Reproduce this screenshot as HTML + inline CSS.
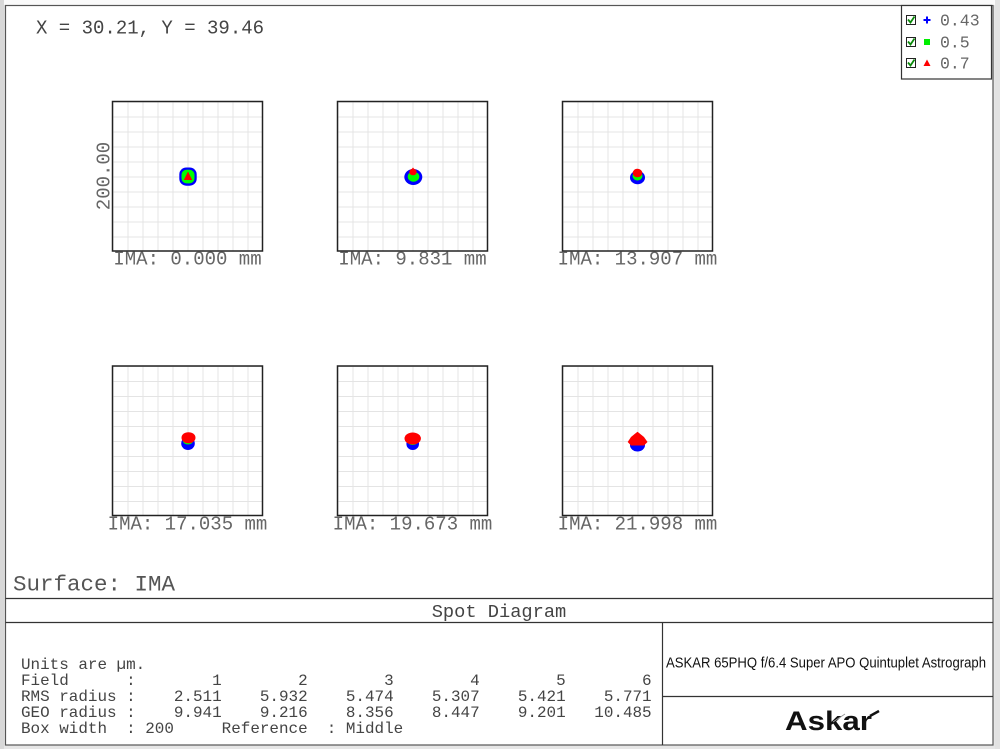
<!DOCTYPE html>
<html>
<head>
<meta charset="utf-8">
<style>
  html,body{margin:0;padding:0;background:#f0f0f0;}
  svg{display:block;}
  text{white-space:pre;}
  .mono{font-family:"Liberation Mono","DejaVu Sans Mono",monospace;}
</style>
</head>
<body>
<svg width="1000" height="749" viewBox="0 0 1000 749" xmlns="http://www.w3.org/2000/svg">
  <defs>
    <pattern id="grid" width="15" height="15" patternUnits="userSpaceOnUse">
      <rect width="15" height="15" fill="#ffffff"/>
      <line x1="0" y1="0" x2="15" y2="0" stroke="#e4e4e4" stroke-width="2"/>
      <line x1="0" y1="0" x2="0" y2="15" stroke="#e4e4e4" stroke-width="2"/>
    </pattern>
  </defs>

  <!-- outer strips -->
  <rect x="0" y="0" width="1000" height="749" fill="#e6e6e6"/>
  <rect x="0" y="0" width="1000" height="5" fill="#fafafa"/>
  <rect x="0" y="0" width="4" height="749" fill="#d8d8d8"/>
  <rect x="995" y="0" width="5" height="749" fill="#e2e2e2"/>

  <!-- main frame -->
  <rect x="5.5" y="5.5" width="987.5" height="739.5" fill="#ffffff" stroke="#555" stroke-width="1.2"/>

  <!-- header coords -->
  <text class="mono" x="36" y="33.5" font-size="19" fill="#444">X = 30.21, Y = 39.46</text>

  <!-- legend -->
  <rect x="901.5" y="5.5" width="90" height="73.5" fill="#fff" stroke="#333" stroke-width="1.2"/>
  <g>
    <rect x="906.5" y="15.5" width="9" height="9" fill="#fff" stroke="#222" stroke-width="1"/>
    <path d="M908 19.5 L910.5 22.5 L914.5 16.5" fill="none" stroke="#0a8a0a" stroke-width="1.8"/>
    <path d="M927 16.5 V23.5 M923.5 20 H930.5" stroke="#0000ff" stroke-width="2"/>
    <text class="mono" x="940" y="25.5" font-size="16.5" fill="#666">0.43</text>

    <rect x="906.5" y="37.5" width="9" height="9" fill="#fff" stroke="#222" stroke-width="1"/>
    <path d="M908 41.5 L910.5 44.5 L914.5 38.5" fill="none" stroke="#0a8a0a" stroke-width="1.8"/>
    <rect x="924" y="39" width="6" height="6" fill="#00ee00"/>
    <text class="mono" x="940" y="47.5" font-size="16.5" fill="#666">0.5</text>

    <rect x="906.5" y="58.5" width="9" height="9" fill="#fff" stroke="#222" stroke-width="1"/>
    <path d="M908 62.5 L910.5 65.5 L914.5 59.5" fill="none" stroke="#0a8a0a" stroke-width="1.8"/>
    <path d="M927 59.5 L930.5 66 L923.5 66 Z" fill="#ff0000"/>
    <text class="mono" x="940" y="68.5" font-size="16.5" fill="#666">0.7</text>
  </g>

  <!-- y axis label -->
  <text class="mono" transform="translate(109.5,176) rotate(-90)" text-anchor="middle" font-size="19" fill="#666">200.00</text>

  <!-- Row 1 -->
  <g transform="translate(112.5,101.5)">
    <rect x="0" y="0" width="150" height="149.5" fill="url(#grid)"/>
    <rect x="0" y="0" width="150" height="149.5" fill="none" stroke="#222" stroke-width="1.5"/>
  </g>
  <g transform="translate(337.5,101.5)">
    <rect x="0" y="0" width="150" height="149.5" fill="url(#grid)"/>
    <rect x="0" y="0" width="150" height="149.5" fill="none" stroke="#222" stroke-width="1.5"/>
  </g>
  <g transform="translate(562.5,101.5)">
    <rect x="0" y="0" width="150" height="149.5" fill="url(#grid)"/>
    <rect x="0" y="0" width="150" height="149.5" fill="none" stroke="#222" stroke-width="1.5"/>
  </g>

  <!-- Row 2 -->
  <g transform="translate(112.5,366)">
    <rect x="0" y="0" width="150" height="149.5" fill="url(#grid)"/>
    <rect x="0" y="0" width="150" height="149.5" fill="none" stroke="#222" stroke-width="1.5"/>
  </g>
  <g transform="translate(337.5,366)">
    <rect x="0" y="0" width="150" height="149.5" fill="url(#grid)"/>
    <rect x="0" y="0" width="150" height="149.5" fill="none" stroke="#222" stroke-width="1.5"/>
  </g>
  <g transform="translate(562.5,366)">
    <rect x="0" y="0" width="150" height="149.5" fill="url(#grid)"/>
    <rect x="0" y="0" width="150" height="149.5" fill="none" stroke="#222" stroke-width="1.5"/>
  </g>

  <!-- spots row 1 -->
  <rect x="179.3" y="167.5" width="17.4" height="18.2" rx="7" fill="#0000ff"/>
  <rect x="181.5" y="169.8" width="13" height="13.6" rx="5" fill="#00ff00"/>
  <path d="M188 171.5 L192.2 180 L183.8 180 Z" fill="#ff0000"/>

  <ellipse cx="413.3" cy="177" rx="9" ry="8" fill="#0000ff"/>
  <ellipse cx="413.5" cy="176.7" rx="5.8" ry="5" fill="#00ff00"/>
  <ellipse cx="413" cy="172" rx="3.7" ry="3.3" fill="#ff0000"/>
  <path d="M413 167.5 L416 171 L410 171 Z" fill="#ff0000"/>

  <ellipse cx="637.5" cy="177.5" rx="7.5" ry="6.8" fill="#0000ff"/>
  <ellipse cx="637.5" cy="176" rx="5" ry="4.5" fill="#00ff00"/>
  <ellipse cx="637.5" cy="173" rx="4.8" ry="4.3" fill="#ff0000"/>

  <!-- spots row 2 -->
  <ellipse cx="188" cy="443.5" rx="6.8" ry="6.5" fill="#0000ff"/>
  <ellipse cx="188" cy="441" rx="5" ry="3.5" fill="#00ff00"/>
  <ellipse cx="188.5" cy="437.7" rx="7" ry="5.5" fill="#ff0000"/>

  <ellipse cx="412.7" cy="444" rx="6.3" ry="6" fill="#0000ff"/>
  <ellipse cx="412.7" cy="442" rx="5" ry="3" fill="#00ff00"/>
  <ellipse cx="412.7" cy="438.5" rx="8.2" ry="6" fill="#ff0000"/>

  <ellipse cx="637.5" cy="445" rx="7.5" ry="6.5" fill="#0000ff"/>
  <path d="M637.5 431.7 L644 437 L647.5 442 L644 445.5 L631 445.5 L627.7 442 L631 437 Z" fill="#ff0000"/>

  <!-- IMA labels -->
  <text class="mono" x="187.5" y="264.5" text-anchor="middle" font-size="19" fill="#666">IMA: 0.000 mm</text>
  <text class="mono" x="412.5" y="264.5" text-anchor="middle" font-size="19" fill="#666">IMA: 9.831 mm</text>
  <text class="mono" x="637.5" y="264.5" text-anchor="middle" font-size="19" fill="#666">IMA: 13.907 mm</text>
  <text class="mono" x="187.5" y="529.5" text-anchor="middle" font-size="19" fill="#666">IMA: 17.035 mm</text>
  <text class="mono" x="412.5" y="529.5" text-anchor="middle" font-size="19" fill="#666">IMA: 19.673 mm</text>
  <text class="mono" x="637.5" y="529.5" text-anchor="middle" font-size="19" fill="#666">IMA: 21.998 mm</text>

  <!-- Surface -->
  <text class="mono" x="13" y="590.5" font-size="22.5" fill="#555">Surface: IMA</text>

  <!-- bottom dividers -->
  <line x1="5.5" y1="598.5" x2="993" y2="598.5" stroke="#333" stroke-width="1.2"/>
  <line x1="5.5" y1="622.5" x2="993" y2="622.5" stroke="#333" stroke-width="1.2"/>
  <line x1="662.5" y1="622.5" x2="662.5" y2="745" stroke="#333" stroke-width="1.2"/>
  <line x1="662.5" y1="696.5" x2="993" y2="696.5" stroke="#333" stroke-width="1.2"/>

  <text class="mono" x="499" y="617" text-anchor="middle" font-size="18.7" fill="#444">Spot Diagram</text>

  <!-- data table -->
  <g class="mono" font-size="15.93" fill="#444">
    <text x="21" y="669">Units are µm.</text>
    <text x="21" y="685">Field      :        1        2        3        4        5        6</text>
    <text x="21" y="701">RMS radius :    2.511    5.932    5.474    5.307    5.421    5.771</text>
    <text x="21" y="717">GEO radius :    9.941    9.216    8.356    8.447    9.201   10.485</text>
    <text x="21" y="733">Box width  : 200     Reference  : Middle</text>
  </g>

  <!-- title cell -->
  <text x="666" y="667.3" font-family="'Liberation Sans', 'DejaVu Sans', sans-serif" font-size="14.5" fill="#111" textLength="320" lengthAdjust="spacingAndGlyphs">ASKAR 65PHQ f/6.4 Super APO Quintuplet Astrograph</text>

  <!-- logo -->
  <text x="785" y="730" font-family="'Liberation Sans', 'DejaVu Sans', sans-serif" font-weight="bold" font-size="27" fill="#111" textLength="87" lengthAdjust="spacingAndGlyphs">Askar</text>
  <path d="M870 716 L879 711" stroke="#111" stroke-width="2.5"/>
  <path d="M833 722 L845 714" stroke="#999" stroke-width="1"/>
</svg>
</body>
</html>
